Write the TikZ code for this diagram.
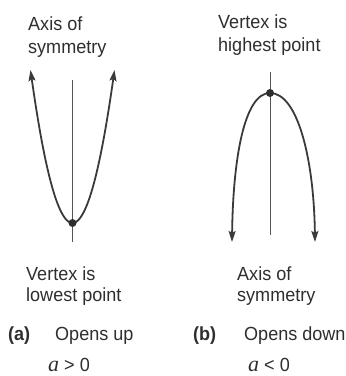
\documentclass[tikz,border=0pt]{standalone}
\usepackage{fontspec}
\setmainfont{Liberation Sans}[FakeStretch=0.95]
\newfontfamily\serifit{Liberation Serif}[ItalicFont={Liberation Serif Italic}]
\usetikzlibrary{arrows.meta}
\definecolor{ink}{HTML}{2E2E2E}
\definecolor{curve}{HTML}{3A3A3A}
\definecolor{axisc}{HTML}{555555}
\tikzset{
  lbl/.style={anchor=base west, inner sep=0pt, text=ink, font=\fontsize{19}{22}\selectfont},
  blbl/.style={lbl, font=\fontsize{19}{22}\selectfont\bfseries},
  parab/.style={draw=curve, line width=1.8pt, {Stealth[length=11pt,width=7pt,inset=2pt]}-{Stealth[length=11pt,width=7pt,inset=2pt]}},
  symaxis/.style={draw=axisc, line width=1pt},
  vdot/.style={circle, fill=ink, inner sep=0pt, minimum size=8pt},
}
\newcommand{\avar}{{\fontsize{22}{22}\selectfont\serifit\itshape a}}
\begin{document}
\begin{tikzpicture}[x=1pt,y=-1pt]
\useasboundingbox (0,0) rectangle (346,376);
% ---- left panel ----
\node[lbl] (axA1) at (28,30) {Axis of};
\node[lbl] (axA2) at (28,53) {symmetry};
\coordinate (axAtop) at (72.5,80);
\coordinate (axAbot) at (72.5,242);
\draw[symaxis] (axAtop) -- (axAbot);
\draw[parab] plot[domain=-42:42, samples=80] ({72.5+\x},{223-153*(\x/42)^2});
\node[vdot] (vA) at (72.5,223) {};
\node[lbl] (vxA1) at (26,280) {Vertex is};
\node[lbl] (vxA2) at (26,301) {lowest point};
\node[blbl] (labA) at (8,340) {(a)};
\node[lbl] (opA) at (55,340) {Opens up};
\node[lbl] (condA) at (48,371) {\avar\ >\ 0};
% ---- right panel ----
\node[lbl] (vxB1) at (218,28) {Vertex is};
\node[lbl] (vxB2) at (218,51) {highest point};
\coordinate (axBtop) at (270,72);
\coordinate (axBbot) at (270,235);
\draw[symaxis] (axBtop) -- (axBbot);
\coordinate (tipBl) at (232,242);
\coordinate (tipBr) at (315,242);
\coordinate (vtxB) at (270,93);
\draw[parab] (tipBl) .. controls (233,160) and (244,93) .. (vtxB)
  .. controls (298,93) and (314,160) .. (tipBr);
\node[vdot] (vB) at (vtxB) {};
\node[lbl] (axB1) at (237,280) {Axis of};
\node[lbl] (axB2) at (237,301) {symmetry};
\node[blbl] (labB) at (193,340) {(b)};
\node[lbl] (opB) at (244,340) {Opens down};
\node[lbl] (condB) at (248,371) {\avar\ <\ 0};
\end{tikzpicture}
\end{document}
